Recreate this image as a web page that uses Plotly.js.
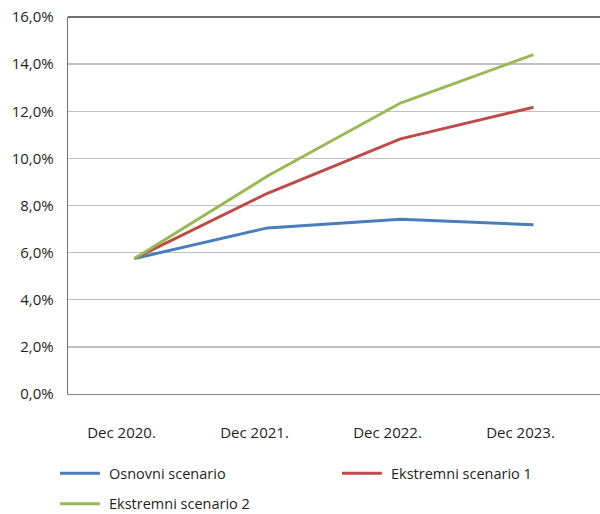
<!DOCTYPE html>
<html>
<head>
<meta charset="utf-8">
<script src="https://cdn.plot.ly/plotly-3.0.1.min.js"></script>
<style>html,body{margin:0;padding:0;background:#fff;}#chart{width:600px;height:514px;}</style>
</head>
<body>
<div id="chart"></div>
<script>
const categories = ['Dec 2020.', 'Dec 2021.', 'Dec 2022.', 'Dec 2023.'];
const osnovni = [5.75, 7.05, 7.42, 7.18];
const ekstremni1 = [5.75, 8.52, 10.83, 12.17];
const ekstremni2 = [5.75, 9.25, 12.35, 14.40];
const seriesNames = ['Osnovni scenario', 'Ekstremni scenario 1', 'Ekstremni scenario 2'];
const seriesColors = ['#4a7ebb', '#be4b48', '#98b954'];
const yTicks = [0, 2, 4, 6, 8, 10, 12, 14, 16];
const yTickLabels = ['0,0%', '2,0%', '4,0%', '6,0%', '8,0%', '10,0%', '12,0%', '14,0%', '16,0%'];

const font = "'Open Sans', 'Noto Sans', sans-serif";
const textColor = '#231f20';
const values = [osnovni, ekstremni1, ekstremni2];

const traces = values.map((v, i) => ({
  x: categories, y: v, type: 'scatter', mode: 'lines',
  name: seriesNames[i], line: {color: seriesColors[i], width: 3},
  showlegend: false
}));

// manual legend layout (two columns, row spacing like reference)
const legendPos = [
  {lx0: -0.015, lx1: 0.060, tx: 0.074, y: -0.210},
  {lx0: 0.515, lx1: 0.590, tx: 0.604, y: -0.210},
  {lx0: -0.015, lx1: 0.060, tx: 0.074, y: -0.291}
];
const shapes = [];
const annotations = [];
seriesNames.forEach((n, i) => {
  const p = legendPos[i];
  shapes.push({type: 'line', xref: 'paper', yref: 'paper', x0: p.lx0, x1: p.lx1, y0: p.y, y1: p.y,
    line: {color: seriesColors[i], width: 3}});
  annotations.push({xref: 'paper', yref: 'paper', x: p.tx, y: p.y, text: n, showarrow: false,
    xanchor: 'left', yanchor: 'middle', font: {family: font, size: 14.5, color: textColor}});
});
// darker top border of plot area
shapes.push({type: 'line', xref: 'paper', yref: 'paper', x0: 0, x1: 1, y0: 1, y1: 1,
  line: {color: '#404040', width: 1.3}});

const layout = {
  width: 600, height: 514,
  margin: {l: 68, r: 0, t: 17, b: 120},
  paper_bgcolor: '#fff', plot_bgcolor: '#fff',
  font: {family: font, size: 15, color: textColor},
  xaxis: {
    type: 'category', range: [-0.5, 3.5], showgrid: false, zeroline: false,
    showline: true, linecolor: '#888', linewidth: 1.3, ticks: '',
    ticklabelstandoff: 25, ticklabelshift: -13,
    tickfont: {family: font, size: 15, color: textColor}, fixedrange: true
  },
  yaxis: {
    range: [0, 16], tickmode: 'array', tickvals: yTicks, ticktext: yTickLabels,
    showgrid: true, gridcolor: '#c0c0c0', gridwidth: 1.3, zeroline: false,
    showline: true, linecolor: '#707070', linewidth: 1.3, ticks: '',
    ticklabelstandoff: 10,
    tickfont: {family: font, size: 15, color: textColor}, fixedrange: true
  },
  shapes: shapes,
  annotations: annotations
};

Plotly.newPlot('chart', traces, layout, {displayModeBar: false, staticPlot: true});
</script>
</body>
</html>
